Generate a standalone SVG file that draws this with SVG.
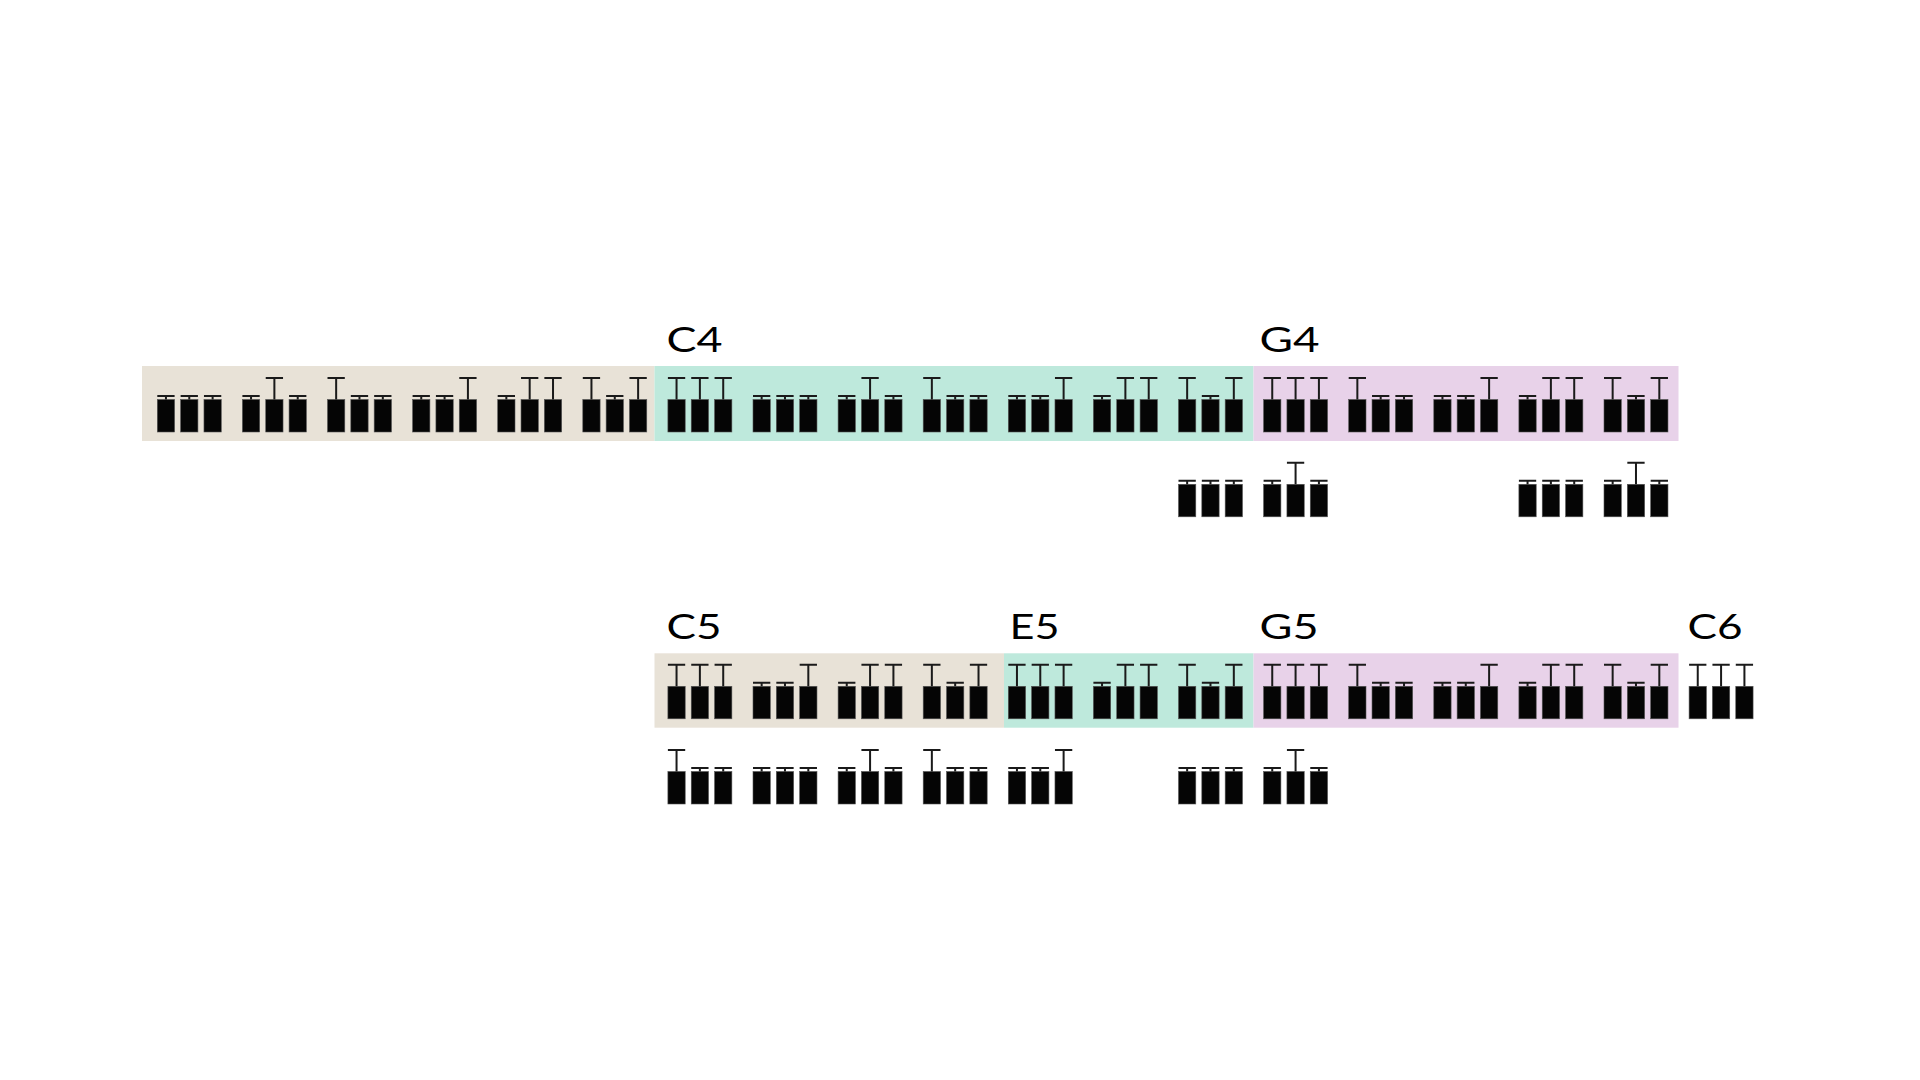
<svg xmlns="http://www.w3.org/2000/svg" xmlns:xlink="http://www.w3.org/1999/xlink" width="1920" height="1080" viewBox="0 0 1920 1080">
  <style>
    .bg-beige { fill: #E8E2D7; }
    .bg-teal { fill: #BEE9DC; }
    .bg-purple { fill: #E8D2E9; }
    .key { fill: #050505; stroke: #555; stroke-width: 0.6; }
    .stem { stroke: #1a1a1a; stroke-width: 2; fill: none; }
    .lbl { font-family: Lato, "Liberation Sans", sans-serif; font-size: 34px; fill: #000; }
  </style>
  <defs>
    <g id="kS">
      <rect class="key" x="0" y="0" width="17.3" height="32.5"/>
      <path class="stem" d="M0,-3.5 H17.3 M8.65,-3.5 V0"/>
    </g>
    <g id="kT">
      <rect class="key" x="0" y="0" width="17.3" height="32.5"/>
      <path class="stem" d="M0,-21.5 H17.3 M8.65,-21.5 V0"/>
    </g>
    <g id="c-SSS"><use href="#kS" x="0"/><use href="#kS" x="23.33"/><use href="#kS" x="46.67"/></g>
    <g id="c-STS"><use href="#kS" x="0"/><use href="#kT" x="23.33"/><use href="#kS" x="46.67"/></g>
    <g id="c-TSS"><use href="#kT" x="0"/><use href="#kS" x="23.33"/><use href="#kS" x="46.67"/></g>
    <g id="c-SST"><use href="#kS" x="0"/><use href="#kS" x="23.33"/><use href="#kT" x="46.67"/></g>
    <g id="c-STT"><use href="#kS" x="0"/><use href="#kT" x="23.33"/><use href="#kT" x="46.67"/></g>
    <g id="c-TST"><use href="#kT" x="0"/><use href="#kS" x="23.33"/><use href="#kT" x="46.67"/></g>
    <g id="c-TTT"><use href="#kT" x="0"/><use href="#kT" x="23.33"/><use href="#kT" x="46.67"/></g>
  </defs>
  <rect x="0" y="0" width="1920" height="1080" fill="#ffffff"/>

  <!-- Row 1 bands -->
  <g id="row1-bands">
    <rect class="bg-beige" x="142" y="366" width="512.5" height="75"/>
    <rect class="bg-teal" x="654.5" y="366" width="599" height="75"/>
    <rect class="bg-purple" x="1253.5" y="366" width="425" height="75"/>
  </g>
  <!-- Row 2 bands -->
  <g id="row2-bands">
    <rect class="bg-beige" x="654.5" y="653.3" width="349.5" height="74.4"/>
    <rect class="bg-teal" x="1004" y="653.3" width="249.5" height="74.4"/>
    <rect class="bg-purple" x="1253.5" y="653.3" width="425" height="74.4"/>
  </g>

  <g id="labels">
    <text class="lbl" x="666.5" y="351.5" textLength="56" lengthAdjust="spacingAndGlyphs">C4</text>
    <text class="lbl" x="1259.5" y="351.5" textLength="60" lengthAdjust="spacingAndGlyphs">G4</text>
    <text class="lbl" x="666.5" y="638.5" textLength="55" lengthAdjust="spacingAndGlyphs">C5</text>
    <text class="lbl" x="1009.5" y="638.5" textLength="50" lengthAdjust="spacingAndGlyphs">E5</text>
    <text class="lbl" x="1259.5" y="638.5" textLength="59" lengthAdjust="spacingAndGlyphs">G5</text>
    <text class="lbl" x="1687.5" y="638.5" textLength="55" lengthAdjust="spacingAndGlyphs">C6</text>
  </g>

  <g id="row1">
    <use id="r1-0" href="#c-SSS" x="157.3" y="399.5"/>
    <use id="r1-1" href="#c-STS" x="242.4" y="399.5"/>
    <use id="r1-2" href="#c-TSS" x="327.5" y="399.5"/>
    <use id="r1-3" href="#c-SST" x="412.6" y="399.5"/>
    <use id="r1-4" href="#c-STT" x="497.7" y="399.5"/>
    <use id="r1-5" href="#c-TST" x="582.8" y="399.5"/>
    <use id="r1-6" href="#c-TTT" x="667.9" y="399.5"/>
    <use id="r1-7" href="#c-SSS" x="753.0" y="399.5"/>
    <use id="r1-8" href="#c-STS" x="838.1" y="399.5"/>
    <use id="r1-9" href="#c-TSS" x="923.2" y="399.5"/>
    <use id="r1-10" href="#c-SST" x="1008.3" y="399.5"/>
    <use id="r1-11" href="#c-STT" x="1093.4" y="399.5"/>
    <use id="r1-12" href="#c-TST" x="1178.5" y="399.5"/>
    <use id="r1-13" href="#c-TTT" x="1263.6" y="399.5"/>
    <use id="r1-14" href="#c-TSS" x="1348.7" y="399.5"/>
    <use id="r1-15" href="#c-SST" x="1433.8" y="399.5"/>
    <use id="r1-16" href="#c-STT" x="1518.9" y="399.5"/>
    <use id="r1-17" href="#c-TST" x="1604.0" y="399.5"/>
  </g>
  <g id="row1-sub">
    <use id="s1-12" href="#c-SSS" x="1178.5" y="484.3"/>
    <use id="s1-13" href="#c-STS" x="1263.6" y="484.3"/>
    <use id="s1-16" href="#c-SSS" x="1518.9" y="484.3"/>
    <use id="s1-17" href="#c-STS" x="1604.0" y="484.3"/>
  </g>

  <g id="row2">
    <use id="r2-6" href="#c-TTT" x="667.9" y="686.3"/>
    <use id="r2-7" href="#c-SST" x="753.0" y="686.3"/>
    <use id="r2-8" href="#c-STT" x="838.1" y="686.3"/>
    <use id="r2-9" href="#c-TST" x="923.2" y="686.3"/>
    <use id="r2-10" href="#c-TTT" x="1008.3" y="686.3"/>
    <use id="r2-11" href="#c-STT" x="1093.4" y="686.3"/>
    <use id="r2-12" href="#c-TST" x="1178.5" y="686.3"/>
    <use id="r2-13" href="#c-TTT" x="1263.6" y="686.3"/>
    <use id="r2-14" href="#c-TSS" x="1348.7" y="686.3"/>
    <use id="r2-15" href="#c-SST" x="1433.8" y="686.3"/>
    <use id="r2-16" href="#c-STT" x="1518.9" y="686.3"/>
    <use id="r2-17" href="#c-TST" x="1604.0" y="686.3"/>
    <use id="r2-18" href="#c-TTT" x="1689.1" y="686.3"/>
  </g>
  <g id="row2-sub">
    <use id="s2-6" href="#c-TSS" x="667.9" y="771.5"/>
    <use id="s2-7" href="#c-SSS" x="753.0" y="771.5"/>
    <use id="s2-8" href="#c-STS" x="838.1" y="771.5"/>
    <use id="s2-9" href="#c-TSS" x="923.2" y="771.5"/>
    <use id="s2-10" href="#c-SST" x="1008.3" y="771.5"/>
    <use id="s2-12" href="#c-SSS" x="1178.5" y="771.5"/>
    <use id="s2-13" href="#c-STS" x="1263.6" y="771.5"/>
  </g>

  <g id="connectors"/>
</svg>
